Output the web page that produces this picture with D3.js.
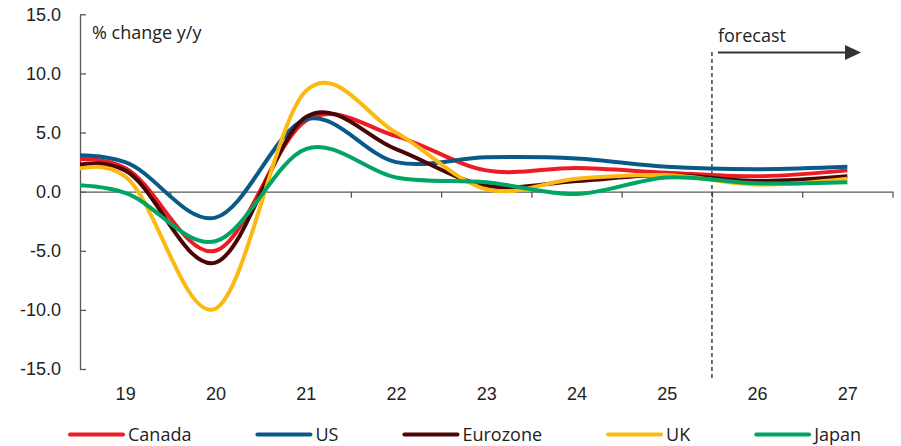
<!DOCTYPE html>
<html>
<head>
<meta charset="utf-8">
<script src="https://cdn.jsdelivr.net/npm/d3@7"></script>
<style>
  html, body { margin: 0; padding: 0; background: #fff; }
  svg { display: block; font-family: "Open Sans", "Noto Sans", sans-serif; }
</style>
</head>
<body>
<svg id="chart" width="901" height="446"></svg>
<script>
// Annual real GDP growth, % change y/y (2017-2018 only shape the curve entering the plot)
const years    = [2017, 2018, 2019, 2020, 2021, 2022, 2023, 2024, 2025, 2026, 2027];
const canada   = [3.0, 2.7, 2.0, -5.0, 6.0, 4.7, 1.8, 2.0, 1.6, 1.3, 1.8];
const us       = [2.5, 3.0, 2.5, -2.2, 6.1, 2.5, 2.9, 2.8, 2.1, 1.9, 2.1];
const eurozone = [2.6, 1.9, 1.8, -6.0, 6.3, 3.6, 0.5, 0.9, 1.4, 0.9, 1.3];
const uk       = [2.7, 1.4, 1.3, -9.9, 8.5, 5.0, 0.2, 1.1, 1.4, 0.6, 1.1];
const japan    = [1.7, 0.8, -0.1, -4.2, 3.6, 1.2, 0.8, -0.2, 1.2, 0.7, 0.8];

const seriesNames  = ["Canada", "US", "Eurozone", "UK", "Japan"];
const seriesColors = ["#ED1C24", "#0A5A87", "#4A0505", "#FDB913", "#00A564"];
const seriesValues = [canada, us, eurozone, uk, japan];

const yearLabels = ["19", "20", "21", "22", "23", "24", "25", "26", "27"];
const yTicks = [-15, -10, -5, 0, 5, 10, 15];
const forecastStart = 2025.5;

const svg = d3.select("#chart");
const textColor = "#222";
const fontSize = 18;

const plotLeft = 80, plotRight = 892.5, plotTop = 14.3, plotBottom = 369;
const x = d3.scaleLinear().domain([2018.5, 2027.5]).range([plotLeft, plotRight]);
const y = d3.scaleLinear().domain([-15, 15]).range([plotBottom, plotTop]);

svg.append("defs").append("clipPath").attr("id", "plot-clip")
  .append("rect").attr("x", plotLeft).attr("y", plotTop - 5)
  .attr("width", plotRight - plotLeft).attr("height", plotBottom - plotTop + 10);

// y axis with inward ticks
const yAxis = svg.append("g")
  .attr("transform", `translate(${plotLeft},0)`)
  .call(d3.axisLeft(y).tickValues(yTicks).tickFormat(d => d.toFixed(1))
    .tickSizeInner(-6).tickSizeOuter(0).tickPadding(19));
yAxis.select(".domain").attr("stroke", "#595959").attr("stroke-width", 1.3);
yAxis.selectAll(".tick line").attr("stroke", "#595959").attr("stroke-width", 1.3);
yAxis.selectAll(".tick text").attr("fill", textColor)
  .style("font-size", fontSize + "px").style("font-family", "inherit");

// x axis along zero with band-boundary ticks
const boundaries = d3.range(2019.5, 2028, 1);
const xAxis = svg.append("g")
  .attr("transform", `translate(0,${y(0)})`)
  .call(d3.axisBottom(x).tickValues(boundaries).tickFormat("")
    .tickSizeInner(6).tickSizeOuter(0));
xAxis.select(".domain").attr("stroke", "#595959").attr("stroke-width", 1.3);
xAxis.selectAll(".tick line").attr("stroke", "#595959").attr("stroke-width", 1.3);

// year labels at the bottom, centred in each band
const labelAxis = svg.append("g")
  .attr("transform", `translate(0,${plotBottom})`)
  .call(d3.axisBottom(x).tickValues(d3.range(2019, 2028))
    .tickFormat((d, i) => yearLabels[i]).tickSize(0).tickPadding(18.5));
labelAxis.select(".domain").remove();
labelAxis.selectAll(".tick text").attr("fill", textColor)
  .style("font-size", fontSize + "px").style("font-family", "inherit");

// unit label
svg.append("text").attr("x", 92).attr("y", 38.5)
  .attr("fill", textColor).style("font-size", fontSize + "px")
  .text("% change y/y");

// forecast marker
const fx = x(forecastStart);
svg.append("line")
  .attr("x1", fx).attr("x2", fx).attr("y1", 52).attr("y2", 381)
  .attr("stroke", "#333").attr("stroke-width", 1.4)
  .attr("stroke-dasharray", "4,3");
svg.append("text").attr("x", fx + 6).attr("y", 42)
  .attr("fill", textColor).style("font-size", fontSize + "px")
  .text("forecast");
svg.append("line")
  .attr("x1", fx + 6).attr("x2", 847).attr("y1", 52.5).attr("y2", 52.5)
  .attr("stroke", "#333").attr("stroke-width", 2);
svg.append("path")
  .attr("d", `M845,45 L861,52.5 L845,60 Z`)
  .attr("fill", "#333");

// series lines
const line = d3.line()
  .x((d, i) => x(years[i]))
  .y(d => y(d))
  .curve(d3.curveCardinal.tension(0));

const plot = svg.append("g").attr("clip-path", "url(#plot-clip)");
seriesValues.forEach((vals, k) => {
  plot.append("path")
    .datum(vals)
    .attr("d", line)
    .attr("fill", "none")
    .attr("stroke", seriesColors[k])
    .attr("stroke-width", 4)
    .attr("stroke-linejoin", "round");
});

// legend
const legend = svg.append("g").attr("transform", "translate(0,434.5)");
let lx = 70;
seriesNames.forEach((name, k) => {
  legend.append("line")
    .attr("x1", lx).attr("x2", lx + 53).attr("y1", 0).attr("y2", 0)
    .attr("stroke", seriesColors[k]).attr("stroke-width", 4)
    .attr("stroke-linecap", "round");
  const t = legend.append("text")
    .attr("x", lx + 58).attr("y", 0).attr("dy", "0.35em")
    .attr("fill", textColor).style("font-size", fontSize + "px")
    .text(name);
  lx += 58 + t.node().getComputedTextLength() + 66;
});
</script>
</body>
</html>
